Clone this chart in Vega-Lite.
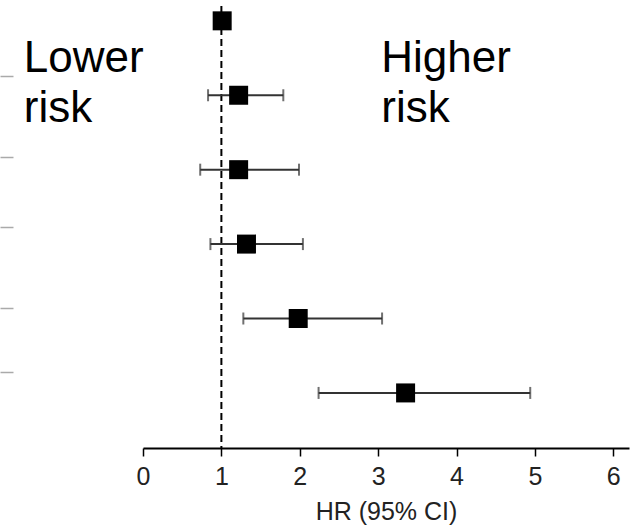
{
  "$schema": "https://vega.github.io/schema/vega-lite/v6.json",
  "autosize": {"type": "none"},
  "width": 486,
  "height": 448,
  "padding": {"left": 143, "top": 0, "right": 11, "bottom": 83},
  "background": "white",
  "config": {"view": {"stroke": null}, "font": "Liberation Sans"},
  "datasets": {
    "rows": [
      {"row": 1, "hr": 1.01, "lo": null, "hi": null},
      {"row": 2, "hr": 1.22, "lo": 0.83, "hi": 1.79},
      {"row": 3, "hr": 1.22, "lo": 0.73, "hi": 1.99},
      {"row": 4, "hr": 1.32, "lo": 0.86, "hi": 2.04},
      {"row": 5, "hr": 1.98, "lo": 1.28, "hi": 3.05},
      {"row": 6, "hr": 3.35, "lo": 2.24, "hi": 4.94}
    ],
    "labels": [
      {"x": -1.52, "row": 1.69, "text": "Lower"},
      {"x": -1.52, "row": 2.36, "text": "risk"},
      {"x": 3.04, "row": 1.69, "text": "Higher"},
      {"x": 3.04, "row": 2.36, "text": "risk"}
    ],
    "ref": [{"hr": 1, "top": 0.8, "bottom": 6.74}]
  },
  "layer": [
    {
      "data": {"name": "ref"},
      "mark": {"type": "rule", "color": "black", "strokeWidth": 2, "strokeDash": [7, 4]},
      "encoding": {
        "x": {"field": "hr", "type": "quantitative"},
        "y": {"field": "top", "type": "quantitative"},
        "y2": {"field": "bottom"}
      }
    },
    {
      "data": {"name": "rows"},
      "transform": [{"filter": "datum.lo != null"}],
      "mark": {"type": "rule", "color": "#333333", "strokeWidth": 2},
      "encoding": {
        "x": {"field": "lo", "type": "quantitative"},
        "x2": {"field": "hi"},
        "y": {"field": "row", "type": "quantitative"}
      }
    },
    {
      "data": {"name": "rows"},
      "transform": [{"filter": "datum.lo != null"}],
      "mark": {"type": "tick", "orient": "vertical", "color": "#333333", "size": 12, "thickness": 2},
      "encoding": {
        "x": {"field": "lo", "type": "quantitative"},
        "y": {"field": "row", "type": "quantitative"}
      }
    },
    {
      "data": {"name": "rows"},
      "transform": [{"filter": "datum.lo != null"}],
      "mark": {"type": "tick", "orient": "vertical", "color": "#333333", "size": 12, "thickness": 2},
      "encoding": {
        "x": {"field": "hi", "type": "quantitative"},
        "y": {"field": "row", "type": "quantitative"}
      }
    },
    {
      "data": {"name": "rows"},
      "mark": {"type": "point", "shape": "square", "filled": true, "color": "black", "size": 361, "opacity": 1},
      "encoding": {
        "x": {
          "field": "hr", "type": "quantitative",
          "scale": {"domain": [0, 6.2], "nice": false, "zero": false},
          "axis": {
            "values": [0, 1, 2, 3, 4, 5, 6],
            "format": "d",
            "title": "HR (95% CI)",
            "grid": false,
            "labelFlush": false,
            "domainColor": "black", "domainWidth": 2,
            "tickColor": "black", "tickWidth": 1.5, "tickSize": 8,
            "labelFontSize": 25, "labelColor": "#222222", "labelPadding": 8,
            "labelFont": "Liberation Sans",
            "titleFont": "Liberation Sans",
            "titleFontSize": 25, "titleFontWeight": "normal", "titleColor": "#222222",
            "titlePadding": 10
          }
        },
        "y": {
          "field": "row", "type": "quantitative",
          "scale": {"domain": [0.72, 6.74], "nice": false, "zero": false, "reverse": true},
          "axis": {
            "values": [1.74, 2.83, 3.77, 4.86, 5.72],
            "title": null,
            "labels": false,
            "domain": false,
            "grid": false,
            "offset": 130,
            "tickSize": 13,
            "tickColor": "#aaaaaa",
            "tickWidth": 1.5
          }
        }
      }
    },
    {
      "data": {"name": "labels"},
      "mark": {"type": "text", "align": "left", "baseline": "alphabetic", "fontSize": 44, "font": "Liberation Sans", "color": "black", "clip": false},
      "encoding": {
        "x": {"field": "x", "type": "quantitative"},
        "y": {"field": "row", "type": "quantitative"},
        "text": {"field": "text"}
      }
    }
  ]
}
